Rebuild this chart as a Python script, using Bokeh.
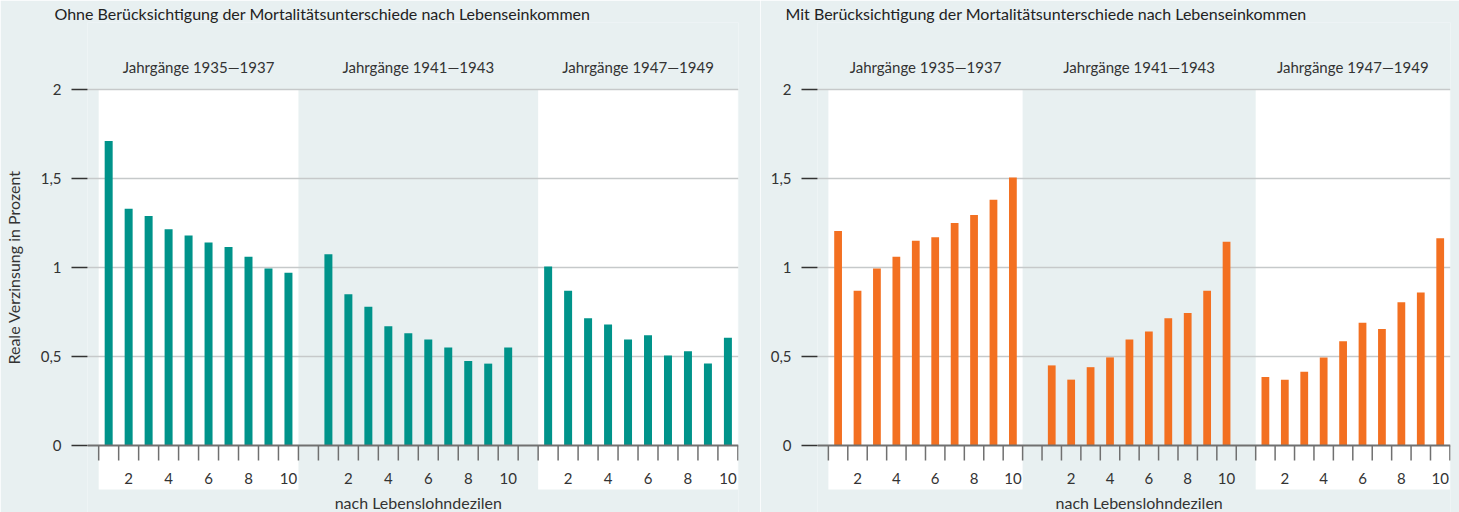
from bokeh.plotting import figure
from bokeh.layouts import row
from bokeh.models import Range1d, FixedTicker
from bokeh.core.properties import value
from bokeh.embed import file_html
from bokeh.resources import INLINE

# ---------------- data ----------------
panel_titles = [
    "Ohne Berücksichtigung der Mortalitätsunterschiede nach Lebenseinkommen",
    "Mit Berücksichtigung der Mortalitätsunterschiede nach Lebenseinkommen",
]
cohorts = ["Jahrgänge 1935—1937", "Jahrgänge 1941—1943", "Jahrgänge 1947—1949"]
deciles = [1, 2, 3, 4, 5, 6, 7, 8, 9, 10]

ohne_1935 = [1.71, 1.33, 1.29, 1.215, 1.18, 1.14, 1.115, 1.06, 0.995, 0.97]
ohne_1941 = [1.075, 0.85, 0.78, 0.67, 0.63, 0.595, 0.55, 0.475, 0.46, 0.55]
ohne_1947 = [1.005, 0.87, 0.715, 0.68, 0.595, 0.62, 0.505, 0.53, 0.46, 0.605]

mit_1935 = [1.205, 0.87, 0.995, 1.06, 1.15, 1.17, 1.25, 1.295, 1.38, 1.505]
mit_1941 = [0.45, 0.37, 0.44, 0.495, 0.595, 0.64, 0.715, 0.745, 0.87, 1.145]
mit_1947 = [0.385, 0.37, 0.415, 0.495, 0.585, 0.69, 0.655, 0.805, 0.86, 1.165]

y_ticks = [0, 0.5, 1, 1.5, 2]
y_tick_labels = ["0", "0,5", "1", "1,5", "2"]
x_tick_deciles = [2, 4, 6, 8, 10]
y_axis_label = "Reale Verzinsung in Prozent"
x_axis_label = "nach Lebenslohndezilen"

# ---------------- styling / layout ----------------
BG = "#e8f0f1"
TEAL = "#00938a"
ORANGE = "#f37021"
TXT = "#333333"
FONT = "Lato"
FS = "15px"
FS_AX = "16px"

group_start = [0, 11, 22]           # slot offsets of the three cohorts
band_edges = [(0, 10), (10, 22), (22, 32)]
band_white = [True, False, True]
n_slots = 32

H = 512
PX_UNIT = 178.0
Y0 = 445.0
TOP = 22.0
BOT = 512.0
y_start = -(BOT - Y0) / PX_UNIT
y_end = (Y0 - TOP) / PX_UNIT
band_bottom = -(489 - Y0) / PX_UNIT
tick_bottom = -(460 - Y0) / PX_UNIT
xlab_y = -(478 - Y0) / PX_UNIT
axis_title_y = -(502 - Y0) / PX_UNIT
cohort_y = (Y0 - 66) / PX_UNIT
x_start, x_end = -0.56, 32.03


def make_panel(title, series, color, width, border_left, border_right, title_offset, show_ylabel):
    p = figure(width=width, height=H, output_backend="svg", toolbar_location=None,
               x_range=Range1d(x_start, x_end), y_range=Range1d(y_start, y_end),
               x_axis_location=None, min_border_left=border_left,
               min_border_right=border_right, min_border_top=int(TOP), min_border_bottom=0,
               title=title)
    p.background_fill_color = BG
    p.border_fill_color = BG
    p.outline_line_color = None
    p.title.align = "left"
    p.title.offset = title_offset
    p.title.text_font = FONT
    p.title.text_font_size = "16px"
    p.title.text_font_style = "normal"
    p.title.text_color = "#222222"
    p.title.standoff = 0

    # white bands
    lefts = [b[0] for b, w in zip(band_edges, band_white) if w]
    rights = [b[1] for b, w in zip(band_edges, band_white) if w]
    bands = p.quad(left=lefts, right=rights, top=2, bottom=band_bottom,
                   fill_color="white", line_color=None)
    bands.level = "image"

    # y axis
    ax = p.yaxis[0]
    ax.ticker = FixedTicker(ticks=y_ticks)
    ax.major_label_overrides = {t: l for t, l in zip(y_ticks, y_tick_labels)}
    ax.axis_line_color = None
    ax.major_tick_in = 0
    ax.major_tick_out = 16
    ax.major_tick_line_color = "#333333"
    ax.major_tick_line_width = 1.5
    ax.minor_tick_line_color = None
    ax.major_label_standoff = 10
    ax.major_label_text_font = FONT
    ax.major_label_text_font_size = FS
    ax.major_label_text_color = TXT
    if show_ylabel:
        ax.axis_label = y_axis_label
        ax.axis_label_text_font = FONT
        ax.axis_label_text_font_size = FS_AX
        ax.axis_label_text_font_style = "normal"
        ax.axis_label_text_color = TXT
        ax.axis_label_standoff = 15

    p.xgrid.visible = False
    p.ygrid.ticker = FixedTicker(ticks=[t for t in y_ticks if t > 0])
    p.ygrid.grid_line_color = "#c6c9ca"
    p.ygrid.grid_line_width = 1.5

    # bars
    xs, tops = [], []
    for g, vals in enumerate(series):
        for d, v in zip(deciles, vals):
            xs.append(group_start[g] + d - 0.5)
            tops.append(v)
    p.vbar(x=xs, top=tops, bottom=0, width=0.4, fill_color=color, line_color=None)

    # zero line
    p.segment(x0=[x_start], x1=[x_end], y0=[0], y1=[0], line_color="#707070", line_width=2)

    # slot ticks
    tx = list(range(0, n_slots + 1))
    p.segment(x0=tx, x1=tx, y0=[0] * len(tx), y1=[tick_bottom] * len(tx),
              line_color="#707070", line_width=1.5)

    # decile labels
    lx, lt = [], []
    for g in range(3):
        for d in x_tick_deciles:
            lx.append(group_start[g] + d - 0.5)
            lt.append(str(d))
    p.text(x=lx, y=[xlab_y] * len(lx), text=lt, text_font=value(FONT),
           text_font_size=FS, text_align="center", text_baseline="middle",
           text_color=TXT)

    # cohort labels
    cx = [(a + b) / 2 for a, b in band_edges]
    p.text(x=cx, y=[cohort_y] * 3, text=cohorts, text_font=value(FONT),
           text_font_size=FS, text_align="center", text_baseline="middle",
           text_color=TXT)

    # x axis title
    p.text(x=[n_slots / 2], y=[axis_title_y], text=[x_axis_label], text_font=value(FONT),
           text_font_size=FS_AX, text_align="center", text_baseline="middle",
           text_color=TXT)
    return p


left = make_panel(panel_titles[0], [ohne_1935, ohne_1941, ohne_1947], TEAL,
                  760, 86, 22, -33, True)
right = make_panel(panel_titles[1], [mit_1935, mit_1941, mit_1947], ORANGE,
                   699, 57, 9, -32, False)

layout = row(left, right)
open("out.html", "w").write(file_html(layout, INLINE))
